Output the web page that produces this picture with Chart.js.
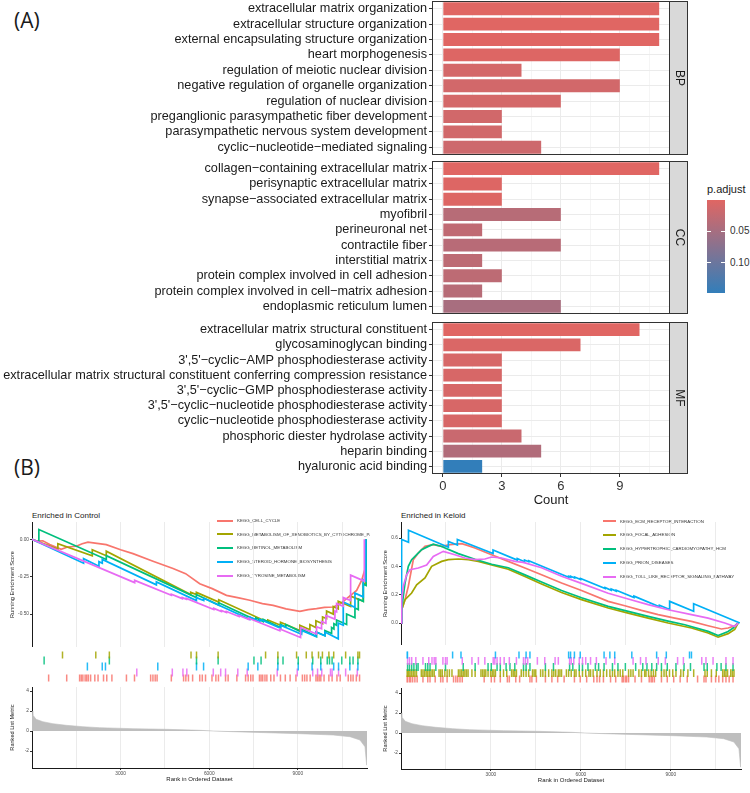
<!DOCTYPE html>
<html>
<head>
<meta charset="utf-8">
<script src="https://cdn.jsdelivr.net/npm/chart.js@4.4.0/dist/chart.umd.min.js"></script>
<style>
  body { margin: 0; background: #fff; }
  #wrap { position: relative; width: 750px; height: 793px; overflow: hidden; background: #fff; font-family: "Liberation Sans", Arial, sans-serif; color: #1a1a1a; }
  canvas, .txt { position: absolute; }
  .txt { white-space: nowrap; }
  .lg { position: absolute; white-space: nowrap; font-size: 4.4px; line-height: 6px; color: #333; }
  .lg i { display: inline-block; width: 16px; height: 2px; vertical-align: middle; margin-right: 4px; }
</style>
</head>
<body>
<div id="wrap">
  <div class="txt" style="left:14px;top:8px;font:21px 'Open Sans';line-height:24px">(A)</div>
  <div class="txt" style="left:14px;top:455px;font:21px 'Open Sans';line-height:24px">(B)</div>

  <canvas id="bp" width="690" height="155" style="left:0;top:0"></canvas>
  <canvas id="cc" width="690" height="154" style="left:0;top:160px"></canvas>
  <canvas id="mf" width="690" height="187" style="left:0;top:321px"></canvas>

  <div class="txt" style="left:707px;top:183px;font-size:11px;line-height:12px">p.adjust</div>
  <div id="cbar" style="position:absolute;left:707px;top:200px;width:18px;height:93px"></div>
  <div id="cticks"></div>

  <div class="txt" style="left:32px;top:511px;font-size:8px;line-height:10px">Enriched in Control</div>
  <div class="txt" style="left:401px;top:511px;font-size:8px;line-height:10px">Enriched in Keloid</div>
  <div id="legL" style="position:absolute;left:217px;top:0;width:153px;height:793px;overflow:hidden"></div>
  <div id="legR" style="position:absolute;left:603px;top:0;width:147px;height:793px;overflow:hidden"></div>

  <canvas id="esL" width="370" height="125" style="left:0;top:522px"></canvas>
  <canvas id="rugL" width="335" height="41" style="left:32px;top:646px"></canvas>
  <canvas id="rankL" width="370" height="97" style="left:0;top:687px"></canvas>

  <canvas id="esR" width="370" height="123" style="left:375px;top:522px"></canvas>
  <canvas id="rugR" width="340" height="42" style="left:401px;top:646px"></canvas>
  <canvas id="rankR" width="370" height="97" style="left:375px;top:688px"></canvas>
</div>
<script>
// ---- panel A: GO enrichment ----
const bpTerms = ['extracellular matrix organization', 'extracellular structure organization', 'external encapsulating structure organization', 'heart morphogenesis', 'regulation of meiotic nuclear division', 'negative regulation of organelle organization', 'regulation of nuclear division', 'preganglionic parasympathetic fiber development', 'parasympathetic nervous system development', 'cyclic−nucleotide−mediated signaling'];
const bpCount = [11, 11, 11, 9, 4, 9, 6, 3, 3, 5];
const bpPadj = [0.0005, 0.0005, 0.0006, 0.003, 0.011, 0.012, 0.011, 0.013, 0.013, 0.017];

const ccTerms = ['collagen−containing extracellular matrix', 'perisynaptic extracellular matrix', 'synapse−associated extracellular matrix', 'myofibril', 'perineuronal net', 'contractile fiber', 'interstitial matrix', 'protein complex involved in cell adhesion', 'protein complex involved in cell−matrix adhesion', 'endoplasmic reticulum lumen'];
const ccCount = [11, 3, 3, 6, 2, 6, 2, 3, 2, 6];
const ccPadj = [0.0005, 0.003, 0.003, 0.035, 0.028, 0.034, 0.03, 0.03, 0.035, 0.048];

const mfTerms = ['extracellular matrix structural constituent', 'glycosaminoglycan binding', "3',5'−cyclic−AMP phosphodiesterase activity", 'extracellular matrix structural constituent conferring compression resistance', "3',5'−cyclic−GMP phosphodiesterase activity", "3',5'−cyclic−nucleotide phosphodiesterase activity", 'cyclic−nucleotide phosphodiesterase activity', 'phosphoric diester hydrolase activity', 'heparin binding', 'hyaluronic acid binding'];
const mfCount = [10, 7, 3, 3, 3, 3, 3, 4, 5, 2];
const mfPadj = [0.0008, 0.006, 0.008, 0.008, 0.008, 0.008, 0.008, 0.02, 0.04, 0.148];

const countGrid = [0, 1.5, 3, 4.5, 6, 7.5, 9, 10.5];
const padjTicks = [0.05, 0.10];

// ---- panel B: GSEA ----
const rankMax = 11340;
const rankGrid = [1500, 3000, 4500, 6000, 7500, 9000, 10500];

const leftSetNames = ['KEGG_CELL_CYCLE', 'KEGG_METABOLISM_OF_XENOBIOTICS_BY_CYTOCHROME_P450', 'KEGG_RETINOL_METABOLISM', 'KEGG_STEROID_HORMONE_BIOSYNTHESIS', 'KEGG_TYROSINE_METABOLISM'];
const rightSetNames = ['KEGG_ECM_RECEPTOR_INTERACTION', 'KEGG_FOCAL_ADHESION', 'KEGG_HYPERTROPHIC_CARDIOMYOPATHY_HCM', 'KEGG_PRION_DISEASES', 'KEGG_TOLL_LIKE_RECEPTOR_SIGNALING_PATHWAY'];
const setColors = ['#F8766D', '#A3A500', '#00BF7D', '#00B0F6', '#E76BF3'];

// running enrichment score, [rank, score]
const esCellCycle = [[0,0],[150,-0.012],[367,-0.011],[600,-0.035],[989,-0.067],[1200,-0.052],[1497,-0.047],[1700,-0.03],[1893,-0.02],[2200,-0.028],[2514,-0.036],[3000,-0.07],[3418,-0.096],[4096,-0.147],[4774,-0.196],[5200,-0.23],[5678,-0.297],[6100,-0.33],[6582,-0.375],[7000,-0.392],[7373,-0.408],[7800,-0.43],[8164,-0.442],[8600,-0.465],[9068,-0.482],[9350,-0.47],[9633,-0.464],[9900,-0.455],[10198,-0.453],[10450,-0.43],[10650,-0.397],[10989,-0.342],[11158,-0.275],[11271,-0.2],[11300,0]];
const esXenobiotics = [[0,0],[875,-0.065],[875,-0.03],[2040,-0.11],[2040,-0.07],[2515,-0.11],[2515,-0.08],[5373,-0.37],[5373,-0.355],[5565,-0.37],[5565,-0.355],[6322,-0.42],[6322,-0.405],[7983,-0.555],[7983,-0.54],[8413,-0.575],[8413,-0.555],[9068,-0.61],[9068,-0.575],[9407,-0.605],[9407,-0.57],[9610,-0.59],[9610,-0.545],[9836,-0.565],[9836,-0.52],[9972,-0.53],[9972,-0.48],[10198,-0.5],[10198,-0.45],[10367,-0.465],[10367,-0.415],[10785,-0.45],[10785,-0.38],[11214,-0.415],[11214,-0.29],[11300,-0.3],[11300,0]];
const esRetinol = [[0,0],[232,-0.02],[232,0.065],[2515,-0.135],[2515,-0.11],[5565,-0.39],[5565,-0.37],[6322,-0.44],[6322,-0.425],[7576,-0.54],[7576,-0.525],[7825,-0.55],[7825,-0.535],[8413,-0.59],[8413,-0.57],[8593,-0.585],[8593,-0.57],[9125,-0.62],[9125,-0.6],[9633,-0.65],[9633,-0.62],[9915,-0.645],[9915,-0.61],[10141,-0.63],[10141,-0.59],[10220,-0.6],[10220,-0.565],[10311,-0.575],[10311,-0.54],[10650,-0.57],[10650,-0.5],[10932,-0.525],[10932,-0.46],[11045,-0.47],[11045,-0.4],[11214,-0.415],[11214,-0.3],[11320,-0.31],[11320,0]];
const esSteroid = [[0,0],[1746,-0.16],[1746,-0.13],[2266,-0.18],[2266,-0.15],[2379,-0.16],[2379,-0.135],[4210,-0.305],[4210,-0.285],[5565,-0.41],[5565,-0.39],[5813,-0.41],[5813,-0.395],[7373,-0.535],[7373,-0.52],[7712,-0.55],[7712,-0.535],[8413,-0.595],[8413,-0.575],[9125,-0.635],[9125,-0.61],[9610,-0.65],[9610,-0.62],[9915,-0.645],[9915,-0.62],[10367,-0.665],[10367,-0.56],[10537,-0.575],[10537,-0.42],[10932,-0.455],[10932,-0.36],[11214,-0.385],[11214,-0.27],[11300,-0.28],[11300,0]];
const esTyrosine = [[0,0],[3475,-0.29],[3475,-0.275],[4718,-0.374],[4718,-0.367],[5090,-0.397],[5090,-0.39],[5226,-0.401],[5226,-0.395],[6152,-0.469],[6152,-0.462],[6412,-0.483],[6412,-0.476],[6582,-0.49],[6582,-0.483],[7010,-0.517],[7010,-0.51],[7339,-0.536],[7339,-0.528],[8390,-0.612],[8390,-0.6],[9091,-0.656],[9091,-0.59],[9633,-0.633],[9633,-0.585],[9802,-0.598],[9802,-0.55],[9949,-0.562],[9949,-0.51],[10254,-0.534],[10254,-0.48],[10311,-0.485],[10311,-0.43],[10537,-0.448],[10537,-0.39],[10785,-0.41],[10785,-0.24],[11250,-0.28],[11250,0]];

const esEcm = [[0,0],[22,0.094],[133,0.165],[244,0.259],[411,0.447],[577,0.494],[800,0.541],[1077,0.553],[1355,0.541],[1633,0.553],[2022,0.56],[2188,0.55],[2466,0.53],[3022,0.482],[3577,0.435],[4133,0.388],[4688,0.341],[5355,0.282],[6021,0.23],[6910,0.153],[7466,0.122],[8021,0.089],[8577,0.059],[9132,0.035],[9688,0.012],[10243,-0.019],[10688,-0.042],[10910,-0.035],[11132,-0.019],[11243,0]];
const esFocal = [[0,0],[22,0.094],[133,0.165],[355,0.212],[522,0.27],[800,0.318],[1022,0.4],[1355,0.435],[1577,0.447],[1911,0.452],[2244,0.447],[2577,0.435],[3022,0.41],[3577,0.38],[4133,0.328],[4688,0.275],[5355,0.215],[6021,0.165],[6910,0.106],[7577,0.07],[8243,0.035],[8910,0],[9688,-0.035],[10243,-0.07],[10577,-0.1],[10910,-0.075],[11132,-0.045],[11243,0]];
const esHcm = [[0,0],[22,0.1],[133,0.28],[244,0.4],[355,0.447],[466,0.47],[688,0.518],[911,0.541],[1077,0.557],[1355,0.54],[1911,0.49],[2466,0.45],[3022,0.415],[3577,0.39],[4133,0.34],[4688,0.29],[5355,0.23],[6021,0.178],[6910,0.118],[7577,0.082],[8243,0.047],[8910,0.014],[9466,-0.012],[10243,-0.059],[10577,-0.088],[10910,-0.06],[11077,-0.035],[11243,0]];
const esPrion = [[0,0],[20,0.59],[250,0.57],[250,0.655],[1580,0.535],[1580,0.575],[1880,0.55],[1880,0.59],[3070,0.49],[3070,0.515],[3880,0.444],[3880,0.455],[4120,0.433],[4120,0.445],[4260,0.433],[4260,0.44],[5590,0.323],[5590,0.33],[5660,0.324],[5660,0.33],[5790,0.318],[5790,0.325],[5990,0.307],[5990,0.315],[6810,0.243],[6810,0.25],[7010,0.232],[7010,0.24],[7180,0.225],[7180,0.232],[7770,0.18],[7770,0.19],[8620,0.115],[8620,0.125],[8960,0.096],[8960,0.153],[9760,0.083],[9760,0.136],[11240,0.005],[11300,0]];
const esToll = [[0,0],[22,0.165],[77,0.26],[188,0.34],[300,0.376],[577,0.388],[855,0.41],[1077,0.47],[1411,0.506],[1799,0.482],[2133,0.459],[2466,0.447],[2799,0.452],[3022,0.466],[3355,0.459],[3799,0.435],[4077,0.428],[4688,0.39],[5355,0.33],[6021,0.28],[6910,0.21],[7577,0.17],[8243,0.13],[8910,0.094],[9688,0.059],[10243,0.035],[10799,0],[11132,-0.024],[11243,0]];

// gene-set hits (rank positions)
const hitsCellCycle = [390,1022,1474,1531,1587,1667,1723,1780,1859,2006,2119,2311,2424,2604,3113,3395,3960,4040,4119,4186,4684,5113,5192,5283,5429,5678,5768,5881,6107,6243,6333,6582,6672,6978,7283,7373,7464,7543,7769,7825,7882,7961,8028,8164,8277,8503,8673,8842,9045,9271,9351,9430,9543,9746,9803,9859,9916,10029,10198,10311,10481,10594,10876,10966,11046,11159,11272];
const hitsXenobiotics = [875,2040,2515,5373,5565,6322,7983,8413,9068,9407,9610,9836,9972,10198,10367,10785,11214,11271];
const hitsRetinol = [232,2515,5565,6322,7576,7825,8413,8593,9125,9633,9915,10141,10220,10311,10650,10932,11045,11214];
const hitsSteroid = [1746,2266,2379,4210,5565,5813,7373,7712,8413,9125,9610,9915,10367,10537,10932,11214];
const hitsTyrosine = [3475,4718,5090,5226,6152,6412,6582,7010,7339,8390,9091,9633,9802,9949,10254,10311,10537,10785,11192];

const hitsEcm = [5,33,100,144,211,289,367,567,733,811,989,1178,1255,1400,1622,1700,1766,1844,1922,2678,2922,3033,3233,3477,3544,3766,3900,4255,4322,4477,4788,5011,5211,5433,5788,5988,6210,6455,6566,6655,6788,7033,7210,7433,7477,7544,7588,7655,7877,8099,8366,8432,8477,8544,8788,8988,9210,9432,9677,10033,10255,10322,10510,10655,10766,10899,11011,11122,11255];
const hitsFocal = [5,33,78,122,178,233,289,344,511,567,622,678,733,789,844,900,955,1122,1178,1233,1322,1400,1478,1567,1789,1844,1900,1955,2011,2066,2122,2255,2366,2566,2622,2678,2733,2811,2900,2955,3011,3066,3233,3344,3455,3622,3678,3733,3789,3955,4033,4122,4211,4344,4400,4455,4622,4700,4788,4900,5011,5077,5144,5233,5288,5344,5511,5588,5677,5788,5844,5955,6066,6177,6288,6344,6433,6566,6677,6788,6900,7011,7100,7177,7288,7366,7455,7655,7733,7810,8010,8099,8210,8255,8344,8432,8510,8588,8788,8877,8955,9066,9177,9288,9455,9544,9699,9899,10288,10366,10510,10677,10899,10955,11011,11066,11177,11233,11288];
const hitsHcm = [33,100,178,255,344,400,655,733,811,1011,1344,1955,2366,2811,2922,3122,3233,3433,3566,3733,4033,4122,4255,4788,5066,5622,5733,5955,6066,6255,6510,6622,6810,7099,7288,7544,7899,8144,8288,8455,8622,8788,8988,9288,9566,9788,10255,10366,10699,10844,11011,11255];
const hitsPrion = [11,33,1589,1878,3066,3877,4122,4255,5588,5655,5788,5988,6810,7010,7177,7766,8622,8955,9755,9822];
const hitsToll = [33,100,178,322,567,767,878,955,1011,1255,1344,1400,1922,2255,2478,2700,2989,3044,3122,3233,3366,3544,3789,4033,4100,4178,4511,4766,5122,5233,5622,5678,5766,5955,6066,6178,6344,6544,6877,7177,7810,8066,8255,8677,8922,9344,9544,10177,10322,10566,11011,11255];

// ranked list metric
const metricRank = [0, 28, 141, 367, 706, 1158, 1723, 2288, 3418, 4548, 5678, 6130, 6808, 7938, 9068, 10198, 10763, 11102, 11271, 11328, 11340];
const metricValue = [2.0, 1.6, 1.17, 0.93, 0.73, 0.57, 0.43, 0.33, 0.23, 0.17, 0.07, 0, -0.07, -0.17, -0.27, -0.4, -0.57, -0.9, -1.57, -3.4, -3.4];

Chart.defaults.font.family = '"Liberation Sans", Arial, sans-serif';
Chart.defaults.color = '#1a1a1a';
Chart.defaults.animation = false;
Chart.defaults.plugins.legend.display = false;
Chart.defaults.plugins.tooltip.enabled = false;

const allPadj = bpPadj.concat(ccPadj, mfPadj);
const pMin = Math.min(...allPadj), pMax = Math.max(...allPadj);
const lowRGB = [224, 102, 99], highRGB = [50, 126, 186];
function padjColor(p) {
  const t = (p - pMin) / (pMax - pMin);
  const c = lowRGB.map((v, i) => Math.round(v + (highRGB[i] - v) * t));
  return `rgb(${c[0]},${c[1]},${c[2]})`;
}

// force an axis to a fixed size and drop the label overhang padding
function fixSize(prop, size) {
  return s => {
    s[prop] = size;
    s.paddingTop = 0; s.paddingBottom = 0; s.paddingLeft = 0; s.paddingRight = 0;
  };
}

const panelFrame = {
  id: 'panelFrame',
  afterDraw(chart, args, opts) {
    const { ctx, chartArea: a } = chart;
    ctx.save();
    ctx.strokeStyle = '#333';
    ctx.lineWidth = 1;
    ctx.strokeRect(a.left + 0.5, a.top + 0.5, a.right - a.left - 1, a.bottom - a.top - 1);
    if (opts.strip) {
      ctx.fillStyle = '#D9D9D9';
      ctx.fillRect(a.right, a.top, 18, a.bottom - a.top);
      ctx.strokeRect(a.right - 0.5, a.top + 0.5, 18, a.bottom - a.top - 1);
      ctx.translate(a.right + 9, (a.top + a.bottom) / 2);
      ctx.rotate(Math.PI / 2);
      ctx.fillStyle = '#1a1a1a';
      ctx.font = '12px "Liberation Sans"';
      ctx.textAlign = 'center';
      ctx.textBaseline = 'middle';
      ctx.fillText(opts.strip, 0, 0);
    }
    ctx.restore();
  }
};

function facetChart(id, terms, counts, padj, strip, showX) {
  new Chart(document.getElementById(id), {
    type: 'bar',
    data: {
      labels: terms,
      datasets: [{ data: counts, backgroundColor: padj.map(padjColor), barPercentage: 0.84, categoryPercentage: 1 }]
    },
    options: {
      indexAxis: 'y', responsive: false, devicePixelRatio: 1,
      layout: { padding: { top: 1, right: 20, left: 0, bottom: 0 } },
      scales: {
        x: {
          type: 'linear', min: -0.55, max: 11.55,
          afterBuildTicks: s => { s.ticks = countGrid.map(v => ({ value: v })); },
          afterFit: fixSize('height', showX ? 34 : 0),
          grid: {
            color: c => (c.tick && c.tick.value % 3 === 0) ? '#EBEBEB' : '#F5F5F5',
            drawTicks: showX, tickLength: 3,
            tickColor: c => (c.tick && c.tick.value % 3 === 0) ? '#333' : 'rgba(0,0,0,0)'
          },
          border: { display: false },
          ticks: { display: showX, padding: 2, font: { size: 13 }, color: '#333', autoSkip: false, maxRotation: 0, callback: v => v % 3 === 0 ? v : '' },
          title: { display: showX, text: 'Count', font: { size: 13 }, padding: { top: 0, bottom: 0 } }
        },
        y: {
          afterFit: fixSize('width', 432),
          grid: { offset: false, color: '#EBEBEB', tickColor: '#333', tickLength: 3 },
          border: { display: false },
          ticks: { font: { size: 12.7 }, color: '#1a1a1a', padding: 2, autoSkip: false }
        }
      },
      plugins: { panelFrame: { strip } }
    },
    plugins: [panelFrame]
  });
}

facetChart('bp', bpTerms, bpCount, bpPadj, 'BP', false);
facetChart('cc', ccTerms, ccCount, ccPadj, 'CC', false);
facetChart('mf', mfTerms, mfCount, mfPadj, 'MF', true);

// colour bar legend
const cbar = document.getElementById('cbar');
const stops = [0, 0.25, 0.5, 0.75, 1].map(t => padjColor(pMin + t * (pMax - pMin)) + ' ' + (t * 100) + '%');
cbar.style.background = 'linear-gradient(to bottom, ' + stops.join(', ') + ')';
const cticks = document.getElementById('cticks');
padjTicks.forEach(p => {
  const y = 200 + (p - pMin) / (pMax - pMin) * 93;
  cticks.insertAdjacentHTML('beforeend',
    `<div style="position:absolute;left:707px;top:${y - 0.5}px;width:4px;height:1px;background:#fff"></div>` +
    `<div style="position:absolute;left:721px;top:${y - 0.5}px;width:4px;height:1px;background:#fff"></div>` +
    `<div class="txt" style="left:730px;top:${y - 6}px;font-size:10px;line-height:12px;color:#333">${p.toFixed(2)}</div>`);
});

// GSEA legends
function legend(elId, names, ys, lineW) {
  const el = document.getElementById(elId);
  names.forEach((n, i) => {
    el.insertAdjacentHTML('beforeend',
      `<div class="lg" style="left:0;top:${ys[i] - 3}px"><i style="background:${setColors[i]};width:${lineW}px"></i>${n}</div>`);
  });
}
legend('legL', leftSetNames, [521, 534.5, 548, 562, 576], 16);
legend('legR', rightSetNames, [521.5, 535, 549, 563, 577], 13);

const tinyTick = { size: 4.8 };

function esChart(id, sets, yMin, yMax, yTicks, digits, axisW, padR, titlePad) {
  new Chart(document.getElementById(id), {
    type: 'line',
    data: {
      datasets: sets.map((s, i) => ({
        data: s.map(p => ({ x: p[0], y: p[1] })),
        borderColor: setColors[i], borderWidth: 1.7, pointRadius: 0, tension: 0, order: 5 - i
      }))
    },
    options: {
      responsive: false, devicePixelRatio: 1,
      layout: { padding: { right: padR, top: 0, bottom: 0, left: 0 } },
      scales: {
        x: {
          type: 'linear', min: 0, max: rankMax,
          afterBuildTicks: s => { s.ticks = rankGrid.map(v => ({ value: v })); },
          afterFit: fixSize('height', 0),
          ticks: { display: false },
          grid: { color: '#EBEBEB', drawTicks: false },
          border: { display: false }
        },
        y: {
          min: yMin, max: yMax,
          afterBuildTicks: s => { s.ticks = yTicks.map(v => ({ value: v })); },
          afterFit: fixSize('width', axisW),
          ticks: { font: tinyTick, color: '#4d4d4d', padding: 1, callback: v => v.toFixed(digits) },
          grid: { drawOnChartArea: false, tickLength: 2, tickColor: '#333' },
          border: { color: '#1a1a1a', width: 1 },
          title: { display: true, text: 'Running Enrichment Score', font: { size: 5.6 }, color: '#1a1a1a', padding: { top: titlePad, bottom: 0 } }
        }
      }
    }
  });
}

function rugChart(id, rows) {
  new Chart(document.getElementById(id), {
    type: 'scatter',
    data: {
      datasets: rows.map((r, i) => ({
        data: r.hits.map(h => ({ x: h, y: i + 1 })),
        pointStyle: 'line', pointRotation: 90, pointRadius: 3.9,
        pointBorderColor: r.color, pointBorderWidth: 1.5, pointBackgroundColor: r.color
      }))
    },
    options: {
      responsive: false, devicePixelRatio: 1,
      layout: { padding: 0 },
      scales: {
        x: { type: 'linear', min: 0, max: rankMax, display: false },
        y: { min: 0.5, max: 5.5, reverse: true, display: false }
      }
    }
  });
}

function rankChart(id, yMin, yMax, axisW, padR, titlePad) {
  new Chart(document.getElementById(id), {
    type: 'line',
    data: {
      datasets: [{
        data: metricRank.map((r, i) => ({ x: r, y: metricValue[i] })),
        fill: 'origin', backgroundColor: '#BEBEBE', borderColor: '#BEBEBE', borderWidth: 0.6, pointRadius: 0, tension: 0
      }]
    },
    options: {
      responsive: false, devicePixelRatio: 1,
      layout: { padding: { right: padR, top: 0, bottom: 0, left: 0 } },
      scales: {
        x: {
          type: 'linear', min: 0, max: rankMax,
          afterBuildTicks: s => { s.ticks = rankGrid.map(v => ({ value: v })); },
          afterFit: fixSize('height', 16),
          ticks: { font: tinyTick, color: '#4d4d4d', padding: 1, autoSkip: false, maxRotation: 0, callback: v => v % 3000 === 0 ? v : '' },
          grid: { color: '#EBEBEB', drawTicks: true, tickLength: 2, tickColor: c => (c.tick && c.tick.value % 3000 === 0) ? '#333' : 'rgba(0,0,0,0)' },
          border: { color: '#1a1a1a', width: 1 },
          title: { display: true, text: 'Rank in Ordered Dataset', font: { size: 6 }, color: '#1a1a1a', padding: { top: 0, bottom: 0.7 } }
        },
        y: {
          min: yMin, max: yMax,
          afterBuildTicks: s => { s.ticks = [4, 2, 0, -2].map(v => ({ value: v })); },
          afterFit: fixSize('width', axisW),
          ticks: { font: tinyTick, color: '#4d4d4d', padding: 1 },
          grid: { drawOnChartArea: false, tickLength: 2, tickColor: '#333' },
          border: { color: '#1a1a1a', width: 1 },
          title: { display: true, text: 'Ranked List Metric', font: { size: 5.6 }, color: '#1a1a1a', padding: { top: titlePad, bottom: 0 } }
        }
      }
    }
  });
}

esChart('esL', [esCellCycle, esXenobiotics, esRetinol, esSteroid, esTyrosine], -0.72, 0.115, [0, -0.25, -0.5], 2, 32, 3, 8.7);
rugChart('rugL', [
  { hits: hitsXenobiotics, color: 'rgba(163,165,0,0.85)' },
  { hits: hitsRetinol, color: 'rgba(0,191,125,0.85)' },
  { hits: hitsSteroid, color: 'rgba(0,176,246,0.85)' },
  { hits: hitsTyrosine, color: 'rgba(231,107,243,0.85)' },
  { hits: hitsCellCycle, color: 'rgba(248,118,109,0.85)' }
]);
rankChart('rankL', -3.7, 4.4, 32, 3, 8.7);

esChart('esR', [esEcm, esFocal, esHcm, esPrion, esToll], -0.155, 0.713, [0, 0.2, 0.4, 0.6], 1, 26, 4, 7.4);
rugChart('rugR', [
  { hits: hitsPrion, color: 'rgba(0,176,246,0.85)' },
  { hits: hitsToll, color: 'rgba(231,107,243,0.85)' },
  { hits: hitsHcm, color: 'rgba(0,191,125,0.85)' },
  { hits: hitsFocal, color: 'rgba(163,165,0,0.85)' },
  { hits: hitsEcm, color: 'rgba(248,118,109,0.85)' }
]);
rankChart('rankR', -3.6, 4.5, 26, 4, 7.4);
</script>
</body>
</html>
